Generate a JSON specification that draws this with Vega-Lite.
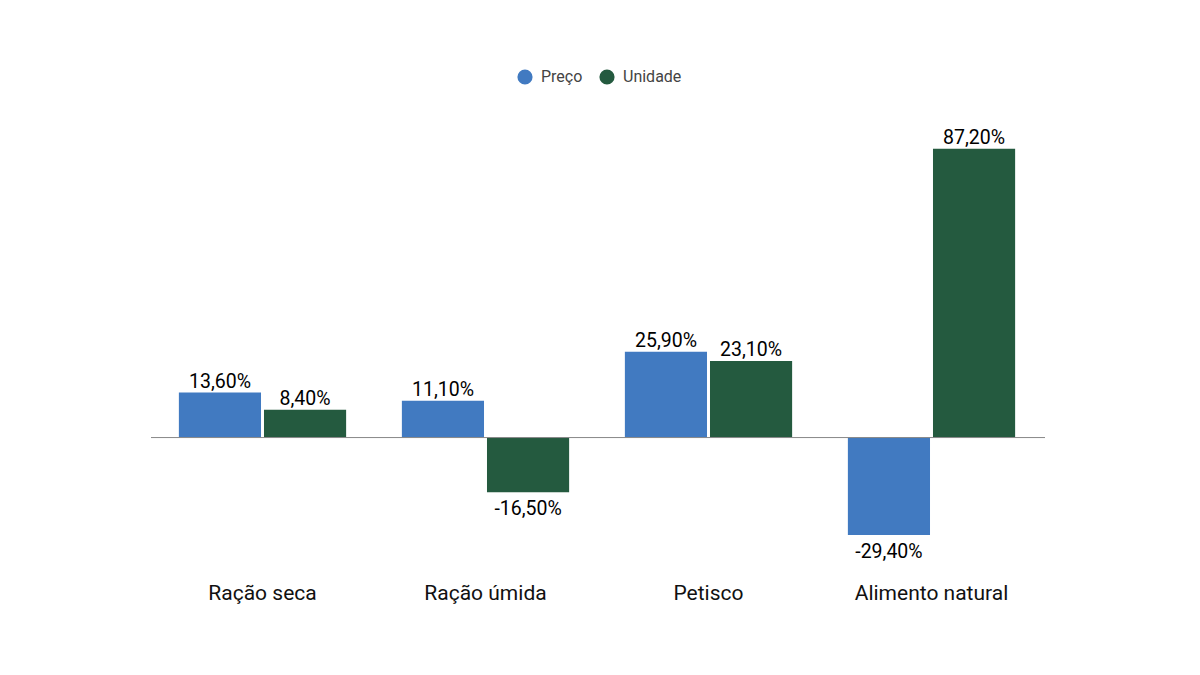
{
  "$schema": "https://vega.github.io/schema/vega-lite/v6.json",
  "width": 892,
  "height": 447,
  "autosize": {"type": "none"},
  "padding": {"left": 151, "top": 123, "right": 157, "bottom": 105},
  "background": "white",
  "data": {
    "values": [
      {"categoria": "Ração seca", "serie": "Preço", "valor": 13.6, "rotulo": "13,60%"},
      {"categoria": "Ração seca", "serie": "Unidade", "valor": 8.4, "rotulo": "8,40%"},
      {"categoria": "Ração úmida", "serie": "Preço", "valor": 11.1, "rotulo": "11,10%"},
      {"categoria": "Ração úmida", "serie": "Unidade", "valor": -16.5, "rotulo": "-16,50%"},
      {"categoria": "Petisco", "serie": "Preço", "valor": 25.9, "rotulo": "25,90%"},
      {"categoria": "Petisco", "serie": "Unidade", "valor": 23.1, "rotulo": "23,10%"},
      {"categoria": "Alimento natural", "serie": "Preço", "valor": -29.4, "rotulo": "-29,40%"},
      {"categoria": "Alimento natural", "serie": "Unidade", "valor": 87.2, "rotulo": "87,20%"}
    ]
  },
  "encoding": {
    "x": {
      "field": "categoria",
      "type": "nominal",
      "sort": null,
      "scale": {"paddingInner": 0.25, "paddingOuter": 0.125},
      "axis": {
        "title": null,
        "domain": false,
        "ticks": false,
        "labelAngle": 0,
        "labelFont": "Roboto",
        "labelFontSize": 21,
        "labelFontWeight": "normal",
        "labelColor": "#111111",
        "labelPadding": 12
      }
    },
    "xOffset": {"field": "serie", "type": "nominal", "sort": ["Preço", "Unidade"], "scale": {"paddingInner": 0.035}},
    "y": {
      "field": "valor",
      "type": "quantitative",
      "scale": {"domain": [-40, 95], "nice": false},
      "axis": null
    }
  },
  "layer": [
    {
      "mark": {"type": "bar"},
      "encoding": {
        "color": {
          "field": "serie",
          "type": "nominal",
          "scale": {"domain": ["Preço", "Unidade"], "range": ["#417AC1", "#245A3F"]},
          "legend": {
            "title": null,
            "orient": "none",
            "direction": "horizontal",
            "legendX": 366,
            "legendY": -54,
            "symbolType": "circle",
            "symbolSize": 230,
            "symbolStrokeWidth": 0,
            "labelFont": "Roboto",
            "labelFontSize": 16,
            "labelFontWeight": "normal",
            "labelColor": "#444444",
            "columnPadding": 16,
            "labelOffset": 8
          }
        }
      }
    },
    {
      "transform": [{"filter": "datum.valor >= 0"}],
      "mark": {"type": "text", "baseline": "bottom", "dy": -1, "font": "Roboto", "fontSize": 19.5, "fontWeight": "normal", "color": "#000000"},
      "encoding": {"text": {"field": "rotulo"}}
    },
    {
      "transform": [{"filter": "datum.valor < 0"}],
      "mark": {"type": "text", "baseline": "top", "dy": 8, "font": "Roboto", "fontSize": 19.5, "fontWeight": "normal", "color": "#000000"},
      "encoding": {"text": {"field": "rotulo"}}
    },
    {
      "data": {"values": [{"zero": 0}]},
      "mark": {"type": "rule", "color": "#888888", "strokeWidth": 1},
      "encoding": {"y": {"field": "zero", "type": "quantitative"}, "x": {"value": 0}, "x2": {"value": 894}, "xOffset": null}
    }
  ],
  "config": {"view": {"stroke": null}}
}
